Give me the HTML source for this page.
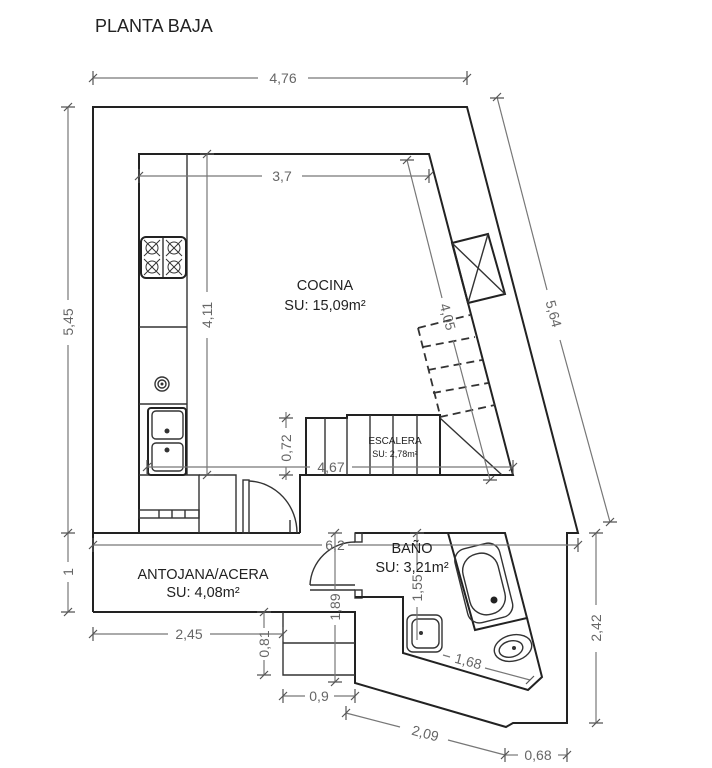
<!DOCTYPE html>
<html><head><meta charset="utf-8"><style>
html,body{margin:0;padding:0;background:#fff;}
svg{display:block;}
text{font-family:"Liberation Sans",sans-serif;}
.w{stroke:#222;stroke-width:2;fill:none;}
.t{stroke:#333;stroke-width:1.4;fill:none;}
.d{stroke:#777;stroke-width:1.2;fill:none;}
.dl{fill:#666;font-size:14px;text-anchor:middle;}
.lb{fill:#222;font-size:14.5px;text-anchor:middle;}
</style></head><body>
<svg width="712" height="768" viewBox="0 0 712 768" xmlns="http://www.w3.org/2000/svg">
<text x="95" y="32" font-size="18" fill="#222">PLANTA BAJA</text>

<!-- outer walls -->
<polyline class="w" points="93,612 93,107 467,107 578,533 567,533 567,723 513,723 506,727 355,683 355,612 93,612"/>
<line class="w" x1="93" y1="533" x2="300" y2="533"/>
<line class="w" x1="355" y1="533" x2="449" y2="533"/>
<!-- kitchen inner -->
<polyline class="w" points="139,533 139,154 429,154 513,475 300,475 300,533"/>
<line class="t" x1="187" y1="154" x2="187" y2="475"/>
<line class="t" x1="139" y1="327" x2="187" y2="327"/>
<line class="t" x1="139" y1="404" x2="187" y2="404"/>
<polyline class="t" points="139,475 199,475 199,533"/>
<polyline class="t" points="199,475 236,475 236,533"/>
<rect class="t" x="139" y="510" width="60" height="8"/>
<line class="t" x1="159" y1="510" x2="159" y2="518"/><line class="t" x1="172" y1="510" x2="172" y2="518"/><line class="t" x1="185" y1="510" x2="185" y2="518"/>
<!-- stove -->
<rect x="141" y="237" width="45" height="41" rx="5" fill="none" stroke="#222" stroke-width="2"/>
<line class="t" x1="163" y1="238" x2="163" y2="277"/>
<g stroke="#333" stroke-width="1" fill="none">
<circle cx="152" cy="248" r="6"/><circle cx="152" cy="267" r="6"/><circle cx="174" cy="248" r="6"/><circle cx="174" cy="267" r="6"/>
<line x1="144" y1="240" x2="160" y2="256"/><line x1="160" y1="240" x2="144" y2="256"/>
<line x1="166" y1="240" x2="182" y2="256"/><line x1="182" y1="240" x2="166" y2="256"/>
<line x1="144" y1="259" x2="160" y2="275"/><line x1="160" y1="259" x2="144" y2="275"/>
<line x1="166" y1="259" x2="182" y2="275"/><line x1="182" y1="259" x2="166" y2="275"/>
</g>
<circle cx="162" cy="384" r="7" class="t"/><circle cx="162" cy="384" r="4" class="t"/><circle cx="162" cy="384" r="1.5" fill="#333"/>
<!-- sink -->
<rect x="148" y="408" width="38" height="67" rx="3" class="w"/>
<rect x="152" y="411" width="31" height="28" rx="4" class="t"/>
<rect x="152" y="443" width="31" height="28" rx="4" class="t"/>
<circle cx="167" cy="431" r="2.5" fill="#333"/><circle cx="167" cy="450" r="2.5" fill="#333"/>
<!-- kitchen door -->
<rect class="t" x="243" y="480" width="6" height="53"/>
<path class="t" d="M249,481 A50,52 0 0 1 297,533"/>
<line class="t" x1="290" y1="520" x2="290" y2="533"/>
<!-- stairs -->
<polyline class="w" points="306,475 306,418 347,418 347,415 440,415 440,475"/>
<g class="t"><line x1="325" y1="418" x2="325" y2="475"/><line x1="347" y1="418" x2="347" y2="475"/><line x1="370" y1="415" x2="370" y2="475"/><line x1="393" y1="415" x2="393" y2="475"/><line x1="417" y1="415" x2="417" y2="475"/></g>
<line class="t" x1="440" y1="418" x2="502" y2="475"/>
<g stroke="#333" stroke-width="1.8" stroke-dasharray="8,5" fill="none">
<line x1="418" y1="328" x2="470" y2="315"/>
<line x1="423" y1="347" x2="475" y2="337"/>
<line x1="428" y1="370" x2="482" y2="360"/>
<line x1="433" y1="393" x2="488" y2="383"/>
<line x1="440" y1="417" x2="495" y2="405"/>
<line x1="418" y1="328" x2="440" y2="415"/>
</g>
<polygon class="w" points="452,243 488,234 505,294 468,303"/>
<line class="t" x1="452" y1="243" x2="505" y2="294"/><line class="t" x1="488" y1="234" x2="468" y2="303"/>
<!-- antojana door -->
<rect class="t" x="355" y="533" width="7" height="9"/>
<rect class="t" x="355" y="590" width="7" height="8"/>
<line class="t" x1="310" y1="585" x2="355" y2="585"/><line class="t" x1="310" y1="590" x2="355" y2="590"/>
<path class="t" d="M310,585 A45,45 0 0 1 355,542"/>
<!-- steps below -->
<polyline class="t" points="283,612 283,675 355,675"/>
<line class="t" x1="283" y1="643" x2="355" y2="643"/>
<!-- bathroom inner -->
<polyline class="w" points="355,597 403,597 403,653 528,690 542,677 527,618"/>
<polygon class="w" points="448,533 505,533 527,618 475,630"/>
<rect x="466" y="553" width="36" height="62" rx="17" transform="rotate(-14 484 584)" class="t"/>
<rect x="461" y="545" width="46" height="76" rx="12" transform="rotate(-14 484 584)" class="t"/>
<circle cx="494" cy="600" r="3.5" fill="#222"/>
<rect x="407" y="615" width="35" height="37" rx="6" class="t"/><rect x="412" y="619" width="27" height="29" rx="6" class="t"/>
<circle cx="421" cy="633" r="2" fill="#333"/>
<ellipse cx="513" cy="648" rx="19" ry="13" transform="rotate(-14 513 648)" class="t"/>
<ellipse cx="511" cy="649" rx="12" ry="8" transform="rotate(-14 511 649)" class="t"/>
<circle cx="514" cy="648" r="2" fill="#333"/>

<!-- dimensions -->
<g class="d">
<line x1="93" y1="78" x2="258" y2="78"/><line x1="308" y1="78" x2="467" y2="78"/>
<line x1="68" y1="107" x2="68" y2="300"/><line x1="68" y1="345" x2="68" y2="533"/>
<line x1="68" y1="533" x2="68" y2="562"/><line x1="68" y1="582" x2="68" y2="612"/>
<line x1="497" y1="97" x2="547" y2="290"/><line x1="560" y1="340" x2="610" y2="522"/>
<line x1="139" y1="176" x2="262" y2="176"/><line x1="302" y1="176" x2="429" y2="176"/>
<line x1="207" y1="154" x2="207" y2="292"/><line x1="207" y1="338" x2="207" y2="475"/>
<line x1="407" y1="160" x2="442" y2="298"/><line x1="453" y1="340" x2="490" y2="480"/>
<line x1="286" y1="412" x2="286" y2="428"/><line x1="286" y1="467" x2="286" y2="480"/>
<line x1="147" y1="467" x2="310" y2="467"/><line x1="352" y1="467" x2="513" y2="467"/>
<line x1="93" y1="545" x2="322" y2="545"/><line x1="348" y1="545" x2="578" y2="545"/>
<line x1="335" y1="533" x2="335" y2="590"/><line x1="335" y1="625" x2="335" y2="682"/>
<line x1="417" y1="533" x2="417" y2="570"/><line x1="417" y1="607" x2="417" y2="640"/>
<line x1="443" y1="655" x2="450" y2="657"/><line x1="485" y1="668" x2="530" y2="680"/>
<line x1="93" y1="634" x2="168" y2="634"/><line x1="210" y1="634" x2="283" y2="634"/>
<line x1="264" y1="612" x2="264" y2="628"/><line x1="264" y1="660" x2="264" y2="675"/>
<line x1="283" y1="696" x2="305" y2="696"/><line x1="334" y1="696" x2="355" y2="696"/>
<line x1="346" y1="713" x2="400" y2="727"/><line x1="448" y1="740" x2="505" y2="755"/>
<line x1="505" y1="755" x2="518" y2="755"/><line x1="558" y1="755" x2="567" y2="755"/>
<line x1="596" y1="533" x2="596" y2="605"/><line x1="596" y1="652" x2="596" y2="723"/>
</g>
<!-- ticks -->
<g stroke="#555" stroke-width="1.2">
<path d="M89,82l8,-8M93,71v14M463,82l8,-8M467,71v14"/>
<path d="M64,111l8,-8M61,107h14M64,537l8,-8M61,533h14M64,616l8,-8M61,612h14"/>
<path d="M493,101l8,-8M490,98h14M606,526l8,-8M603,522h14"/>
<path d="M135,180l8,-8M139,169v14M425,180l8,-8M429,169v14"/>
<path d="M203,158l8,-8M200,154h14M203,479l8,-8M200,475h14"/>
<path d="M403,164l8,-8M400,160h14M486,484l8,-8M483,480h14"/>
<path d="M282,422l8,-8M279,418h14M282,479l8,-8M279,475h14"/>
<path d="M143,471l8,-8M147,460v14M509,471l8,-8M513,460v14"/>
<path d="M89,549l8,-8M93,538v14M574,549l8,-8M578,538v14"/>
<path d="M331,537l8,-8M328,533h14M331,686l8,-8M328,682h14"/>
<path d="M413,537l8,-8M410,533h14"/>
<path d="M526,684l8,-8"/>
<path d="M89,638l8,-8M93,627v14M279,638l8,-8M283,627v14"/>
<path d="M260,616l8,-8M257,612h14M260,679l8,-8M257,675h14"/>
<path d="M279,700l8,-8M283,689v14M351,700l8,-8M355,689v14"/>
<path d="M342,717l8,-8M346,706v14M501,759l8,-8M505,748v14M563,759l8,-8M567,748v14"/>
<path d="M592,537l8,-8M589,533h14M592,727l8,-8M589,723h14"/>
</g>
<g class="dl">
<text x="283" y="83">4,76</text>
<text transform="translate(73,322) rotate(-90)">5,45</text>
<text transform="translate(73,572) rotate(-90)">1</text>
<text transform="translate(549,315) rotate(75)">5,64</text>
<text x="282" y="181">3,7</text>
<text transform="translate(212,315) rotate(-90)">4,11</text>
<text transform="translate(443,318) rotate(75)">4,05</text>
<text transform="translate(291,448) rotate(-90)">0,72</text>
<text x="331" y="472">4,67</text>
<text x="335" y="550">6,2</text>
<text transform="translate(340,607) rotate(-90)">1,89</text>
<text transform="translate(422,588) rotate(-90)">1,55</text>
<text transform="translate(467,666) rotate(15)">1,68</text>
<text x="189" y="639">2,45</text>
<text transform="translate(269,644) rotate(-90)">0,81</text>
<text x="319" y="701">0,9</text>
<text transform="translate(424,738) rotate(15)">2,09</text>
<text x="538" y="760">0,68</text>
<text transform="translate(601,628) rotate(-90)">2,42</text>
</g>
<g class="lb">
<text x="325" y="290">COCINA</text>
<text x="325" y="310">SU: 15,09m²</text>
<text x="203" y="579">ANTOJANA/ACERA</text>
<text x="203" y="597">SU: 4,08m²</text>
<text x="412" y="553">BAÑO</text>
<text x="412" y="572">SU: 3,21m²</text>
<text x="395" y="444" font-size="10">ESCALERA</text>
<text x="395" y="457" font-size="9">SU: 2,78m²</text>
</g>
</svg>
</body></html>
